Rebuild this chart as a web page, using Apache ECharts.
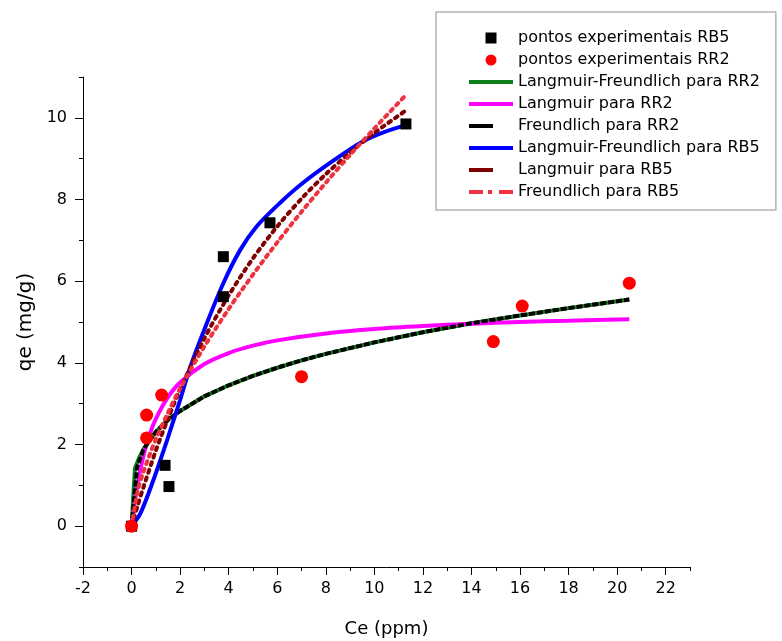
<!DOCTYPE html>
<html>
<head>
<meta charset="utf-8">
<script src="https://cdn.jsdelivr.net/npm/echarts@6/dist/echarts.min.js"></script>
<style>
html,body{margin:0;padding:0;background:#fff;}
#chart{width:782px;height:641px;}
</style>
</head>
<body>
<div id="chart"></div>
<script>
// ---- Data ----
const xMajorTicks = [-2,0,2,4,6,8,10,12,14,16,18,20,22];
const xMinorTicks = [-1,1,3,5,7,9,11,13,15,17,19,21,23];
const yMajorTicks = [0,2,4,6,8,10];
const yMinorTicks = [-1,1,3,5,7,9,11];

const pontosRB5 = [[0,0],[1.38,1.49],[1.54,0.97],[3.78,6.60],[3.78,5.62],[5.70,7.43],[11.30,9.85]];
const pontosRR2 = [[0,0],[0.62,2.16],[0.62,2.72],[1.24,3.21],[7.00,3.66],[14.90,4.52],[16.09,5.39],[20.50,5.95]];

const lfRR2 = [[0,0],[0.14,1.42],[0.3,1.66],[0.5,1.90],[1,2.31],[1.5,2.60],[2,2.82],[3,3.18],[4,3.45],[5,3.68],[6,3.88],[7,4.06],[8,4.22],[10,4.50],[12,4.75],[14,4.97],[16,5.16],[18,5.34],[20.5,5.55]];
const langRR2 = [[0,0],[0.23,0.98],[0.5,1.75],[0.75,2.25],[1,2.63],[1.5,3.16],[2,3.52],[3,3.97],[4,4.24],[5,4.42],[6,4.55],[8,4.72],[10,4.83],[12,4.90],[14,4.96],[16,5.00],[18,5.03],[20.5,5.07]];
const freundRR2 = [[0,0],[0.23,1.45],[0.5,1.89],[1,2.31],[1.5,2.60],[2,2.82],[3,3.18],[4,3.45],[5,3.68],[6,3.88],[7,4.06],[8,4.22],[10,4.50],[12,4.75],[14,4.97],[16,5.16],[18,5.34],[20.5,5.55]];
const lfRB5 = [[0,0],[0.37,0.32],[0.9,1.13],[1.46,2.10],[2.0,3.09],[2.42,3.90],[3.1,4.97],[3.78,5.95],[4.47,6.76],[5.15,7.34],[6.1,7.91],[7.0,8.38],[8.16,8.89],[9.52,9.42],[10.4,9.65],[11.3,9.82]];
const langRB5 = [[0,0],[0.25,0.50],[0.5,0.97],[1,1.85],[1.5,2.63],[2,3.35],[3,4.60],[4,5.65],[5,6.56],[6,7.34],[7,8.02],[8,8.62],[9,9.15],[10,9.63],[11.3,10.18]];
const freundRB5 = [[0,0],[0.25,0.85],[0.5,1.35],[1,2.13],[1.5,2.78],[2,3.37],[3,4.40],[4,5.32],[5,6.16],[6,6.95],[7,7.70],[8,8.41],[9,9.09],[10,9.74],[11.3,10.56]];

const names = [
  'pontos experimentais RB5',
  'pontos experimentais RR2',
  'Langmuir-Freundlich para RR2',
  'Langmuir para RR2',
  'Freundlich para RR2',
  'Langmuir-Freundlich para RB5',
  'Langmuir para RB5',
  'Freundlich para RB5'
];

const FONT = 'DejaVu Sans';
const chart = echarts.init(document.getElementById('chart'), null, {renderer:'canvas'});

function lineSeries(name, data, color, type, cap, smooth){
  return {
    name: name, type: 'line', data: data, showSymbol: false, symbol: 'none',
    smooth: smooth || false,
    xAxisIndex: 0, yAxisIndex: 0, z: 2,
    lineStyle: {color: color, width: 4, type: type, cap: cap || 'butt', opacity: 1},
    itemStyle: {color: color},
    emphasis: {disabled: true}
  };
}

const axisCommonText = {fontFamily: FONT, fontSize: 16, color: '#000'};
const ICON_BAR = 'path://M0,0h44v4h-44z';
const ICON_SHORT = 'path://M0,0h24v4h-24z M44,0L44,4';
const ICON_DASHDOT = 'path://M0,0h14v4h-14z M19,0h4v4h-4z M30,0h14v4h-14z';
const ICON_SQUARE = 'path://M0,0h10v10h-10z';

const option = {
  animation: false,
  backgroundColor: '#fff',
  grid: {left: 83, right: 92, top: 77, bottom: 74, containLabel: false, outerBoundsMode: 'none'},
  legend: {
    orient: 'vertical', left: 436, top: 12,
    padding: [18, 16, 10, 33],
    itemWidth: 44, itemHeight: 11, itemGap: 6,
    borderColor: '#b4b4b4', borderWidth: 1.5,
    textStyle: {fontFamily: FONT, fontSize: 16, color: '#000'},
    selectedMode: false,
    symbolKeepAspect: true,
    itemStyle: {borderWidth: 0},
    lineStyle: {width: 0},
    data: [
      {name: names[0], icon: ICON_SQUARE},
      {name: names[1], icon: 'circle'},
      {name: names[2], icon: ICON_BAR},
      {name: names[3], icon: ICON_BAR},
      {name: names[4], icon: ICON_SHORT},
      {name: names[5], icon: ICON_BAR},
      {name: names[6], icon: ICON_SHORT},
      {name: names[7], icon: ICON_DASHDOT}
    ]
  },
  xAxis: [
    {
      type: 'value', min: -2, max: 23, position: 'bottom',
      name: 'Ce (ppm)', nameLocation: 'middle', nameGap: 53,
      nameTextStyle: {fontFamily: FONT, fontSize: 18, color: '#000'},
      axisLine: {show: true, onZero: false, lineStyle: {color: '#000', width: 1}},
      axisTick: {show: true, inside: false, length: 8, customValues: xMajorTicks, lineStyle: {color: '#000', width: 1}},
      axisLabel: Object.assign({customValues: xMajorTicks, margin: 14}, axisCommonText),
      splitLine: {show: false}
    },
    {
      type: 'value', min: -2, max: 23, position: 'bottom',
      axisLine: {show: false, onZero: false},
      axisTick: {show: true, inside: false, length: 4, customValues: xMinorTicks, lineStyle: {color: '#000', width: 1}},
      axisLabel: {show: false},
      splitLine: {show: false}
    }
  ],
  yAxis: [
    {
      type: 'value', min: -1, max: 11, position: 'left',
      name: 'qe (mg/g)', nameLocation: 'middle', nameGap: 46, nameRotate: 90,
      nameTextStyle: {fontFamily: FONT, fontSize: 20, color: '#000'},
      axisLine: {show: true, onZero: false, lineStyle: {color: '#000', width: 1}},
      axisTick: {show: true, inside: false, length: 8, customValues: yMajorTicks, lineStyle: {color: '#000', width: 1}},
      axisLabel: Object.assign({customValues: yMajorTicks, margin: 16}, axisCommonText),
      splitLine: {show: false}
    },
    {
      type: 'value', min: -1, max: 11, position: 'left',
      axisLine: {show: false, onZero: false},
      axisTick: {show: true, inside: false, length: 4, customValues: yMinorTicks, lineStyle: {color: '#000', width: 1}},
      axisLabel: {show: false},
      splitLine: {show: false}
    }
  ],
  series: [
    lineSeries(names[2], lfRR2, '#0f7f1a', 'solid', 'butt', false),
    lineSeries(names[3], langRR2, '#ff00ff', 'solid', 'butt', 0.3),
    lineSeries(names[4], freundRR2, '#000000', [6,2], 'butt', false),
    lineSeries(names[5], lfRB5, '#0000ff', 'solid', 'butt', 0.3),
    lineSeries(names[6], langRB5, '#800000', [3,5], 'round', 0.3),
    lineSeries(names[7], freundRB5, '#ee3340', [3,5], 'round', 0.3),
    {
      name: names[0], type: 'scatter', data: pontosRB5, symbol: 'rect', symbolSize: 11,
      itemStyle: {color: '#000', opacity: 1}, z: 3, emphasis: {disabled: true}
    },
    {
      name: names[1], type: 'scatter', data: pontosRR2, symbol: 'circle', symbolSize: 13,
      itemStyle: {color: '#ff0000', opacity: 1}, z: 3, emphasis: {disabled: true}
    }
  ]
};
chart.setOption(option);
</script>
</body>
</html>
